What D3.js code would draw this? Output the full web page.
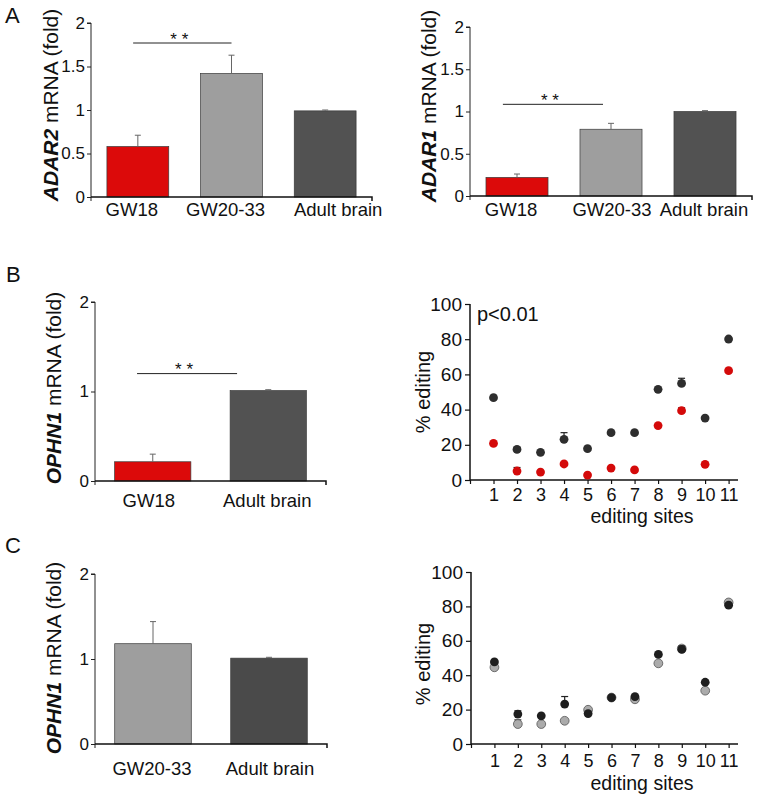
<!DOCTYPE html>
<html><head><meta charset="utf-8">
<script src="https://cdn.jsdelivr.net/npm/d3@7"></script>
<style>
body{margin:0;background:#fff;}
svg{display:block;font-family:"Liberation Sans",Arial,Helvetica,sans-serif;}
</style></head>
<body><svg id="c" width="761" height="803"></svg>
<script>
// ---------- DATA ----------
const aLeftCats = ["GW18", "GW20-33", "Adult brain"];
const aLeftVals = [0.58, 1.42, 0.99];
const aLeftErr  = [0.13, 0.21, 0.01];

const aRightCats = ["GW18", "GW20-33", "Adult brain"];
const aRightVals = [0.22, 0.79, 1.00];
const aRightErr  = [0.04, 0.07, 0.01];

const bLeftCats = ["GW18", "Adult brain"];
const bLeftVals = [0.215, 1.01];
const bLeftErr  = [0.085, 0.01];

const cLeftCats = ["GW20-33", "Adult brain"];
const cLeftVals = [1.18, 1.01];
const cLeftErr  = [0.26, 0.01];

const ticksA = [0, 0.5, 1, 1.5, 2];
const ticksBC = [0, 1, 2];

const sites = [1, 2, 3, 4, 5, 6, 7, 8, 9, 10, 11];
const bAdult    = [46.8, 17.4, 15.7, 23.1, 17.8, 26.9, 26.9, 51.5, 54.9, 35.2, 80.1];
const bAdultErr = [0, 1.0, 0, 3.8, 0, 0, 0, 0, 2.9, 0, 0];
const bGW18     = [20.8, 5.1, 4.5, 9.1, 2.8, 6.8, 5.7, 30.9, 39.4, 8.9, 62.1];
const bGW18Err  = [0, 2.0, 0, 0, 0, 0, 0, 0, 1.6, 0, 0];

const cAdult    = [47.7, 17.4, 16.4, 23.2, 17.7, 27.0, 27.6, 52.1, 55.0, 35.9, 80.7];
const cAdultErr = [0, 1.9, 0, 4.4, 0, 0, 0, 0, 2.0, 0, 0];
const cGW20     = [44.6, 11.6, 11.6, 13.5, 19.9, 27.0, 26.0, 46.9, 55.5, 31.0, 82.3];
const cGW20Err  = [0, 2.4, 0, 0, 0, 0, 0, 0, 0, 0, 0];

const scatterTicks = [0, 20, 40, 60, 80, 100];

// ---------- STYLE ----------
const catColor = {"GW18": "#dc0a0a", "GW20-33": "#9e9e9e", "Adult brain": "#525252"};
const svg = d3.select("#c");
const FONT = '"Liberation Sans",Arial,Helvetica,sans-serif';

function barPanel(o) {
  const g = svg.append("g");
  const x = d3.scaleBand().domain(o.cats).range([o.x0, o.x1]).paddingInner(0.34).paddingOuter(0.17);
  const y = d3.scaleLinear().domain([0, 2]).range([o.yb, o.yt]);
  // bars
  g.selectAll("rect.bar").data(o.cats).join("rect")
    .attr("x", d => x(d)).attr("width", x.bandwidth())
    .attr("y", (d, i) => y(o.vals[i])).attr("height", (d, i) => y(0) - y(o.vals[i]))
    .attr("fill", d => (o.colors && o.colors[d]) || catColor[d])
    .attr("stroke", "#3a3a3a").attr("stroke-width", 0.7);
  // error bars (upper only)
  o.cats.forEach((d, i) => {
    const cx = x(d) + x.bandwidth() / 2;
    const yt = y(o.vals[i] + o.err[i]);
    g.append("line").attr("x1", cx).attr("x2", cx).attr("y1", y(o.vals[i])).attr("y2", yt)
      .attr("stroke", "#666").attr("stroke-width", 1);
    g.append("line").attr("x1", cx - 3).attr("x2", cx + 3).attr("y1", yt).attr("y2", yt)
      .attr("stroke", "#666").attr("stroke-width", 1);
  });
  // y axis
  const ya = g.append("g").attr("transform", `translate(${o.x0},0)`)
    .call(d3.axisLeft(y).tickValues(o.ticks).tickSize(4).tickPadding(2).tickFormat(d3.format("~g")));
  ya.select(".domain").attr("stroke", "#222").attr("stroke-width", 1).attr("d", `M-4,${o.yt}H0V${o.yb + 4}`);
  ya.selectAll(".tick line").attr("stroke", "#222");
  ya.selectAll("text").attr("font-size", 17).attr("font-family", FONT).attr("fill", "#111");
  // x axis
  const xa = g.append("g").attr("transform", `translate(0,${o.yb})`)
    .call(d3.axisBottom(x).tickSize(0).tickPadding(0));
  xa.select(".domain").attr("stroke", "#111").attr("stroke-width", 1.5)
    .attr("d", `M${o.x0},0H${o.x1}V4`);
  xa.selectAll("text").attr("font-size", 18.5).attr("font-family", FONT).attr("fill", "#111")
    .attr("dy", null).attr("y", o.labY - o.yb)
    .attr("dx", (d, i) => (o.labelDx ? o.labelDx[i] : 0));
  // y label
  const t = g.append("text").attr("transform", `translate(${o.lx},${o.ly}) rotate(-90)`)
    .attr("text-anchor", "middle").attr("dominant-baseline", "central")
    .attr("font-size", 21).attr("font-family", FONT).attr("fill", "#111");
  t.append("tspan").attr("font-weight", "bold").attr("font-style", "italic").text(o.gene);
  t.append("tspan").text(" mRNA (fold)");
  // significance
  if (o.sig) {
    const xi = d3.scaleLinear().domain([0, o.cats.length - 1])
      .range([x(o.cats[0]) + x.bandwidth() / 2, x(o.cats[o.cats.length - 1]) + x.bandwidth() / 2]);
    const sx1 = xi(o.sig.from), sx2 = xi(o.sig.to), sy = y(o.sig.y);
    g.append("line").attr("x1", sx1).attr("x2", sx2).attr("y1", sy).attr("y2", sy)
      .attr("stroke", "#222").attr("stroke-width", 1);
    g.append("text").attr("x", (sx1 + sx2) / 2 - 3).attr("y", sy + 1.5)
      .attr("text-anchor", "middle").attr("font-size", 17).attr("font-family", FONT)
      .attr("fill", "#111").text("* *");
  }
}

function scatterPanel(o) {
  const g = svg.append("g");
  const x = d3.scaleLinear().domain([0, 11.4]).range([o.x0, o.x1]);
  const y = d3.scaleLinear().domain([0, 100]).range([o.yb, o.yt]);
  const ya = g.append("g").attr("transform", `translate(${o.x0},0)`)
    .call(d3.axisLeft(y).tickValues(scatterTicks).tickSize(5).tickPadding(3));
  ya.select(".domain").attr("stroke", "#111").attr("stroke-width", 1.5).attr("d", `M0,${o.yt}V${o.yb}`);
  ya.selectAll(".tick line").attr("stroke", "#111").attr("stroke-width", 1.2);
  ya.selectAll("text").attr("font-size", 19).attr("font-family", FONT).attr("fill", "#111");
  const xa = g.append("g").attr("transform", `translate(0,${o.yb})`)
    .call(d3.axisBottom(x).tickValues([0].concat(sites)).tickSize(4).tickPadding(o.xPad).tickFormat(d => d === 0 ? "" : d));
  xa.select(".domain").attr("stroke", "#111").attr("stroke-width", 1.5).attr("d", `M${o.x0},0H${o.x1}`);
  xa.selectAll(".tick line").attr("stroke", "#111").attr("stroke-width", 1.2);
  xa.selectAll("text").attr("font-size", 18).attr("font-family", FONT).attr("fill", "#111");
  g.append("text").attr("x", o.titleX).attr("y", o.titleY).attr("text-anchor", "middle")
    .attr("font-size", 19.5).attr("font-family", FONT).attr("fill", "#111").text("editing sites");
  g.append("text").attr("transform", `translate(${o.lx},${o.ly}) rotate(-90)`)
    .attr("text-anchor", "middle").attr("dominant-baseline", "central")
    .attr("font-size", 20).attr("font-family", FONT).attr("fill", "#111").text("% editing");
  o.series.forEach(s => {
    s.vals.forEach((v, i) => {
      if (s.err[i] > 0) {
        const cx = x(sites[i]), yt = y(v + s.err[i]);
        g.append("line").attr("x1", cx).attr("x2", cx).attr("y1", y(v)).attr("y2", yt).attr("stroke", "#222").attr("stroke-width", 1.2);
        g.append("line").attr("x1", cx - 3.5).attr("x2", cx + 3.5).attr("y1", yt).attr("y2", yt).attr("stroke", "#222").attr("stroke-width", 1.2);
      }
    });
    g.selectAll(null).data(s.vals).join("circle")
      .attr("cx", (d, i) => x(sites[i])).attr("cy", d => y(d)).attr("r", 4.4)
      .attr("fill", s.color).attr("stroke", s.stroke || "none").attr("stroke-width", 0.8);
  });
  if (o.note) {
    g.append("text").attr("x", o.note.x).attr("y", o.note.y).attr("font-size", 20)
      .attr("font-family", FONT).attr("fill", "#111").text(o.note.text);
  }
}

// panel letters
[["A", 5, 23], ["B", 6, 282], ["C", 5, 553]].forEach(([t, px, py]) =>
  svg.append("text").attr("x", px).attr("y", py).attr("font-size", 22).attr("font-family", FONT).attr("fill", "#111").text(t));

barPanel({cats: aLeftCats, vals: aLeftVals, err: aLeftErr, ticks: ticksA, gene: "ADAR2",
  x0: 91, x1: 372, yb: 197, yt: 23, labY: 216, lx: 50, ly: 105, labelDx: [-6, -6, 13],
  sig: {from: -0.05, to: 1.0, y: 1.77}});
barPanel({cats: aRightCats, vals: aRightVals, err: aRightErr, ticks: ticksA, gene: "ADAR1",
  x0: 470, x1: 752, yb: 196, yt: 27, labY: 216, lx: 428, ly: 106, labelDx: [-6, 1, -1],
  sig: {from: -0.15, to: 0.915, y: 1.085}});
barPanel({cats: bLeftCats, vals: bLeftVals, err: bLeftErr, ticks: ticksBC, gene: "OPHN1",
  x0: 95, x1: 326, yb: 481, yt: 302, labY: 507, lx: 53, ly: 388, labelDx: [-4, -1],
  sig: {from: -0.136, to: 0.73, y: 1.2}});
barPanel({cats: cLeftCats, vals: cLeftVals, err: cLeftErr, ticks: ticksBC, gene: "OPHN1",
  x0: 95, x1: 327, yb: 744, yt: 574, labY: 775, lx: 53, ly: 658, labelDx: [-1, 1],
  colors: {"Adult brain": "#4a4a4a"}});

scatterPanel({x0: 470, x1: 738, yb: 480, yt: 304, titleX: 642, titleY: 523, lx: 423, ly: 392, xPad: 4,
  series: [{vals: bAdult, err: bAdultErr, color: "#2e2e2e"}, {vals: bGW18, err: bGW18Err, color: "#d40a0a"}],
  note: {x: 477, y: 321, text: "p<0.01"}});
scatterPanel({x0: 471, x1: 738, yb: 744, yt: 572, titleX: 642, titleY: 790, lx: 423, ly: 664, xPad: 6,
  series: [{vals: cGW20, err: cGW20Err, color: "#ababab", stroke: "#555"}, {vals: cAdult, err: cAdultErr, color: "#1e1e1e"}]});
</script></body></html>
